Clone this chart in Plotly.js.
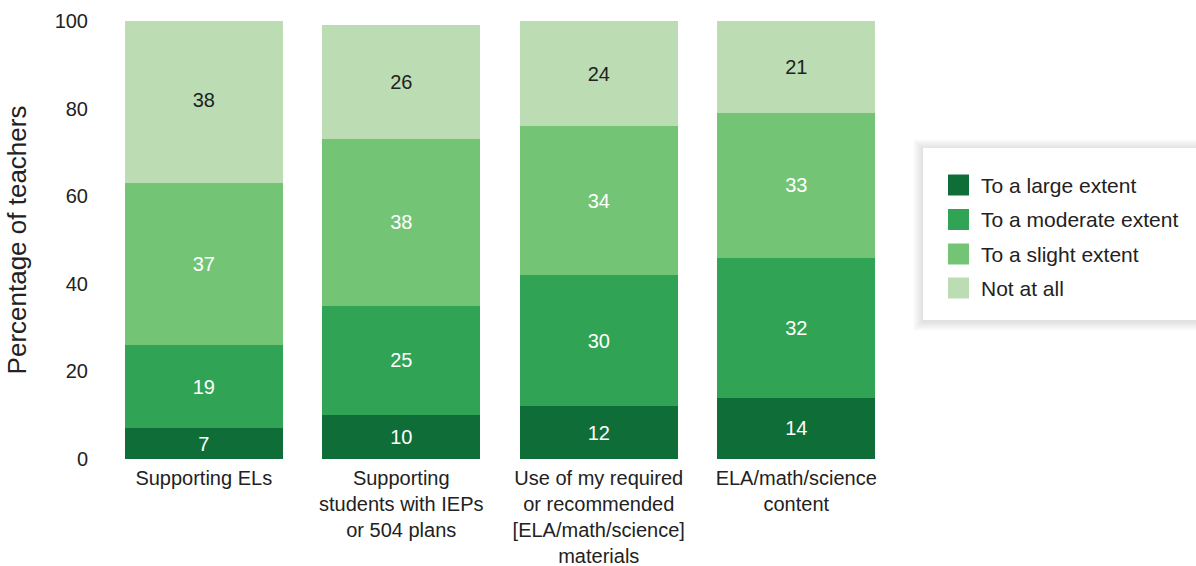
<!DOCTYPE html>
<html>
<head>
<meta charset="utf-8">
<script src="https://cdn.plot.ly/plotly-3.0.1.min.js"></script>
<style>html,body{margin:0;padding:0;background:#fff;}#chart{width:1196px;height:566px;}</style>
</head>
<body>
<div id="chart"></div>
<script>
const categories = [
  "Supporting ELs",
  "Supporting<br>students with IEPs<br>or 504 plans",
  "Use of my required<br>or recommended<br>[ELA/math/science]<br>materials",
  "ELA/math/science<br>content"
];
const seriesNames = ["To a large extent", "To a moderate extent", "To a slight extent", "Not at all"];
const largeExtent = [7, 10, 12, 14];
const moderateExtent = [19, 25, 30, 32];
const slightExtent = [37, 38, 34, 33];
const notAtAll = [38, 26, 24, 21];
const yTicks = [0, 20, 40, 60, 80, 100];

const colors = ["#0f6e38", "#31a354", "#74c476", "#bcddb4"];
const labelColors = ["#ffffff", "#ffffff", "#ffffff", "#222222"];
const seriesValues = [largeExtent, moderateExtent, slightExtent, notAtAll];
const FONT = "Liberation Sans, Arial, Helvetica, sans-serif";

const traces = seriesValues.map((vals, i) => ({
  type: "bar",
  name: seriesNames[i],
  x: categories,
  y: vals,
  text: vals.map(String),
  textposition: "inside",
  insidetextanchor: "middle",
  textangle: 0,
  constraintext: "none",
  textfont: {family: FONT, size: 20, color: labelColors[i]},
  marker: {color: colors[i], line: {width: 0}},
  hoverinfo: "skip",
  showlegend: false
}));

// custom legend (box with soft shadow, swatches, labels)
const px2x = p => (p - 105) / 790;
const px2y = p => (459 - p) / 438;
const shapes = [];
const annotations = [];
const box = {l: 923, r: 1210, t: 148, b: 320};
for (let k = 10; k >= 1; k--) {
  shapes.push({type: "rect", xref: "paper", yref: "paper", layer: "above",
    x0: px2x(box.l - k), x1: px2x(box.r + k), y0: px2y(box.b + k + 1), y1: px2y(box.t - k + 1),
    fillcolor: "rgba(0,0,0,0.011)", line: {width: 0}});
}
shapes.push({type: "rect", xref: "paper", yref: "paper", layer: "above",
  x0: px2x(box.l), x1: px2x(box.r), y0: px2y(box.b), y1: px2y(box.t),
  fillcolor: "#ffffff", line: {width: 0}});
const rowY = [185, 219.5, 254, 288];
seriesNames.forEach((n, i) => {
  shapes.push({type: "rect", xref: "paper", yref: "paper", layer: "above",
    x0: px2x(948), x1: px2x(969), y0: px2y(rowY[i] + 10.5), y1: px2y(rowY[i] - 10.5),
    fillcolor: colors[i], line: {width: 0}});
  annotations.push({xref: "paper", yref: "paper", x: px2x(979), y: px2y(rowY[i]),
    xanchor: "left", yanchor: "middle", showarrow: false, text: n,
    font: {family: FONT, size: 21, color: "#222222"}});
});

const layout = {
  width: 1196, height: 566,
  margin: {l: 105, r: 301, t: 21, b: 107, pad: 0},
  paper_bgcolor: "#ffffff", plot_bgcolor: "#ffffff",
  barmode: "stack",
  bargap: 0.2,
  showlegend: false,
  font: {family: FONT, size: 20, color: "#222222"},
  xaxis: {
    type: "category",
    showgrid: false, zeroline: false, showline: false, ticks: "",
    ticklabelstandoff: 5,
    tickfont: {family: FONT, size: 20, color: "#222222"},
    automargin: false
  },
  yaxis: {
    range: [0, 100],
    tickvals: yTicks,
    ticktext: yTicks.map(String),
    showgrid: false, zeroline: false, showline: false, ticks: "",
    ticklabelstandoff: 16,
    tickfont: {family: FONT, size: 20, color: "#222222"},
    title: {text: "Percentage of teachers", font: {family: FONT, size: 26, color: "#222222"}, standoff: 20},
    automargin: false
  },
  shapes: shapes,
  annotations: annotations
};

Plotly.newPlot("chart", traces, layout, {displayModeBar: false, staticPlot: true});
</script>
</body>
</html>
